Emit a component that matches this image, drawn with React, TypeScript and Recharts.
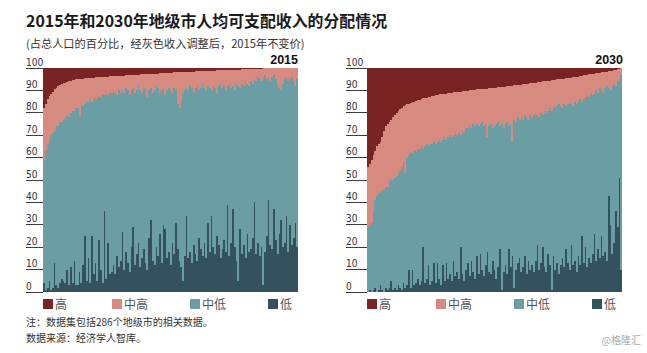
import React from 'react';
import { BarChart, Bar, XAxis, YAxis } from 'recharts';

// ---- shares of population by income class, cities sorted by 高 share (2015) ----
const low2015 = [
  4,1,2,5,1,2,13,3,2,4,6,5,4,10,3,11,4,14,3,3,
  9,4,12,25,5,15,4,25,8,13,5,23,10,4,36,6,22,8,9,12,
  8,16,11,14,27,10,18,13,9,20,29,12,17,22,11,15,19,13,10,24,
  32,14,12,20,16,26,13,30,28,15,18,12,22,17,31,19,14,11,5,16,
  34,15,18,13,21,17,14,24,19,16,22,15,31,18,34,20,17,25,21,15,
  19,23,18,39,16,22,37,20,14,5,28,17,21,15,26,18,19,24,40,17,
  22,16,20,3,18,25,41,21,19,37,23,17,26,32,20,22,34,18,30,21,
  24,31,20,
];
const midLow2015 = [
  55,62,64,63,69,69,59,71,72,72,70,72,74,69,75,69,77,67,79,79,
  69,79,71,59,80,70,82,60,78,74,81,64,77,84,52,83,66,81,80,78,
  81,72,79,75,63,79,73,77,79,70,62,77,73,70,79,74,72,77,77,66,
  59,75,78,72,75,63,77,61,60,75,73,78,67,74,59,65,68,74,84,74,
  57,75,74,78,68,74,78,66,72,77,69,75,61,73,56,72,74,64,71,78,
  72,69,72,53,77,69,55,70,79,87,63,76,71,79,67,74,75,69,55,77,
  74,79,74,93,79,70,55,73,77,60,72,76,65,58,73,73,62,76,65,75,
  70,61,75,
];
const midHigh2015 = [
  23,21,20,19.5,18.5,18.5,18.5,17.2,17.8,16.3,16.7,16.1,15.5,14.8,16,14.3,13.5,13.7,12.9,13,
  17.1,12.2,12.3,11.4,10.5,10.5,9.6,10.7,9.7,8.8,9.9,8.9,9,8,8.1,7.2,8.2,7.3,7.3,6.4,
  7.4,8.5,6.5,7.5,6.6,7.6,5.7,6.7,8.8,6.8,5.9,7.9,7,5,7.1,8.1,6.2,7.2,10.3,7.3,
  6.4,8.4,7.5,5.5,6.5,8.6,7.6,6.7,9.7,7.8,6.8,7.9,8.9,7,8,14.1,16.1,13.2,9.2,8.3,
  7.3,8.3,6.4,7.4,9.4,7.5,6.5,8.5,7.6,5.6,7.6,8.7,6.7,7.7,8.8,6.8,7.8,9.9,6.9,6,
  8,7,9.1,7.1,6.1,8.2,7.2,9.2,6.3,7.3,8.3,6.4,7.4,5.4,6.4,7.5,5.5,6.5,4.5,5.6,
  3.6,4.7,5.7,3.8,2.8,4.9,4,6,4,3,5,7,9,10,7,5,4,6,5,4,
  6,8,5,
];
const high2015 = [
  18,16,14,12.5,11.5,10.5,9.5,8.8,8.2,7.7,7.3,6.9,6.5,6.2,6,5.7,5.5,5.3,5.1,5,
  4.9,4.8,4.7,4.6,4.5,4.5,4.4,4.3,4.3,4.2,4.1,4.1,4,4,3.9,3.8,3.8,3.7,3.7,3.6,
  3.6,3.5,3.5,3.5,3.4,3.4,3.3,3.3,3.2,3.2,3.1,3.1,3,3,2.9,2.9,2.8,2.8,2.7,2.7,
  2.6,2.6,2.5,2.5,2.5,2.4,2.4,2.3,2.3,2.2,2.2,2.1,2.1,2,2,1.9,1.9,1.8,1.8,1.7,
  1.7,1.7,1.6,1.6,1.6,1.5,1.5,1.5,1.4,1.4,1.4,1.3,1.3,1.3,1.2,1.2,1.2,1.1,1.1,1.0,
  1.0,1.0,0.9,0.9,0.9,0.8,0.8,0.8,0.7,0.7,0.7,0.6,0.6,0.6,0.6,0.5,0.5,0.5,0.5,0.4,
  0.4,0.3,0.3,0.2,0.2,0.1,0,0,0,0,0,0,0,0,0,0,0,0,0,0,
  0,0,0,
];

// ---- 2030 ----
const low2030 = [
  0,1,0,1,2,0,1,3,1,0,2,1,2,5,1,2,1,3,2,1,
  4,2,3,10,2,10,3,4,6,3,5,20,4,6,12,3,5,13,4,13,
  6,3,12,5,13,6,8,5,14,7,9,6,20,8,5,10,13,7,14,9,
  6,16,8,17,10,7,12,18,9,8,14,10,6,11,19,1,9,12,8,19,
  11,16,2,10,13,15,9,11,16,8,14,10,12,9,14,21,10,13,20,11,
  9,17,12,1,16,10,13,8,12,15,11,19,13,10,21,12,14,9,16,12,
  25,13,20,11,15,13,17,26,14,19,15,25,16,18,14,43,30,17,22,36,
  29,51,10,
];
const midLow2030 = [
  29,29,31,35,39,43,43,42,44,46,45,46,47,45,49,49,51,50,52,55,
  54,51,57,51,60,52,60,59,58,61,60,44,61,60,53,63,61,54,62,54,
  62,64,56,64,55,63,62,64,56,64,61,65,50,64,66,63,60,67,59,66,
  68,59,66,58,66,67,63,51,65,67,59,64,69,65,55,74,64,63,68,55,
  64,51,75,66,65,62,69,66,63,70,63,69,66,70,66,58,68,67,59,70,
  71,64,70,80,67,72,70,76,71,67,73,64,71,75,63,71,71,75,69,74,
  60,73,67,77,72,76,71,63,76,70,76,65,73,73,78,48,60,75,71,56,
  65,44,87,
];
const midHigh2030 = [
  27,27,28,25,22,22,22,22,24,26,27,28,27,27,28,28,28,28,27.5,26,
  25,30.5,23.8,23.1,22.4,22.7,22,22.2,21.5,21.8,21.1,22.4,21.6,20.8,22,21.2,21.4,20.6,21.8,21,
  20.2,21.3,20.4,19.5,20.6,19.8,18.9,20,19.1,18.2,19.3,18.4,19.5,17.6,18.7,16.8,16.9,16,17.1,15.3,
  16.4,15.5,16.5,15.6,14.7,16.7,15.8,21.8,16.9,15.9,18,17.1,16.2,15.3,17.4,16.5,18.6,16.7,15.8,17.9,
  17,25.1,15.2,16.3,14.4,15.5,14.6,15.7,13.8,14.9,16,14.1,15.2,14.4,13.5,14.6,15.8,13.9,15,13.1,
  14.2,13.3,12.4,13.6,11.7,12.8,11.9,11,12.1,13.2,11.3,12.4,11.5,10.6,11.7,12.8,10.9,12.1,11.2,10.4,
  11.6,10.7,9.9,9,10.1,8.3,9.4,8.5,7.7,8.8,6.9,8.1,9.2,7.3,6.4,7.5,8.7,6.8,6,7.2,
  5.4,4.6,2.8,
];
const high2030 = [
  44,43,41,39,37,35,34,33,31,28,26,25,24,23,22,21,20,19,18.5,18,
  17,16.5,16.2,15.9,15.6,15.3,15,14.8,14.5,14.2,13.9,13.6,13.4,13.2,13,12.8,12.6,12.4,12.2,12,
  11.8,11.7,11.6,11.5,11.4,11.2,11.1,11,10.9,10.8,10.7,10.6,10.5,10.4,10.3,10.2,10.1,10,9.9,9.7,
  9.6,9.5,9.5,9.4,9.3,9.3,9.2,9.2,9.1,9.1,9,8.9,8.8,8.7,8.6,8.5,8.4,8.3,8.2,8.1,
  8,7.9,7.8,7.7,7.6,7.5,7.4,7.3,7.2,7.1,7,6.9,6.8,6.6,6.5,6.4,6.2,6.1,6,5.9,
  5.8,5.7,5.6,5.4,5.3,5.2,5.1,5,4.9,4.8,4.7,4.6,4.5,4.4,4.3,4.2,4.1,3.9,3.8,3.6,
  3.4,3.3,3.1,3,2.9,2.7,2.6,2.5,2.3,2.2,2.1,1.9,1.8,1.7,1.6,1.5,1.3,1.2,1,0.8,
  0.6,0.4,0.2,
];

const yTicks = [0, 10, 20, 30, 40, 50, 60, 70, 80, 90, 100];
const seriesNames = ['高', '中高', '中低', '低'];
const seriesKeys = ['high', 'midHigh', 'midLow', 'low'];
const yearLabels = ['2015', '2030'];

const COLORS: Record<string, string> = {
  high: '#7a2323',
  midHigh: '#d78a80',
  midLow: '#6b9da4',
  low: '#34525d',
};

const buildTable = (low: number[], midLow: number[], midHigh: number[], high: number[]) =>
  low.map((v, i) => ({ rank: i + 1, low: v, midLow: midLow[i], midHigh: midHigh[i], high: high[i] }));

const data2015 = buildTable(low2015, midLow2015, midHigh2015, high2015);
const data2030 = buildTable(low2030, midLow2030, midHigh2030, high2030);

const NUM_FONT = "'Liberation Sans Narrow', 'DejaVu Sans Condensed', Roboto, sans-serif";
const CJK_FONT = "'Noto Sans CJK SC', 'Noto Sans', sans-serif";

const makeTick = (labelX: number, plotLeft: number) => (props: any) => {
  const { y, payload } = props;
  return (
    <g>
      <line x1={labelX} x2={plotLeft} y1={y} y2={y} stroke="#3c3c3c" strokeWidth={1} />
      <text x={labelX} y={y - 2.5} fontSize={10} fill="#333" fontFamily={NUM_FONT}>
        {payload.value}
      </text>
    </g>
  );
};

function Panel({ data, left, labelX }: { data: any[]; left: number; labelX: number }) {
  return (
    <div style={{ position: 'absolute', left, top: 0, width: 310, height: 300 }}>
      <BarChart
        width={310}
        height={300}
        data={data}
        margin={{ top: 68, right: 12, bottom: 8, left: 0 }}
        barCategoryGap={0}
        barGap={0}
        style={{ shapeRendering: 'crispEdges' } as any}
      >
        <XAxis dataKey="rank" hide />
        <YAxis
          domain={[0, 100]}
          ticks={yTicks}
          interval={0}
          width={43}
          axisLine={false}
          tickLine={false}
          allowDataOverflow
          tick={makeTick(labelX, 43)}
        />
        <Bar dataKey="low" stackId="s" fill={COLORS.low} isAnimationActive={false} />
        <Bar dataKey="midLow" stackId="s" fill={COLORS.midLow} isAnimationActive={false} />
        <Bar dataKey="midHigh" stackId="s" fill={COLORS.midHigh} isAnimationActive={false} />
        <Bar dataKey="high" stackId="s" fill={COLORS.high} isAnimationActive={false} />
      </BarChart>
    </div>
  );
}

const legendOffsets = [0, 69, 147, 225];

function Legend({ x0 }: { x0: number }) {
  return (
    <g>
      {seriesKeys.map((k, i) => (
        <g key={k}>
          <rect x={x0 + legendOffsets[i]} y={299} width={10} height={10} fill={COLORS[k]} />
          <text x={x0 + legendOffsets[i] + 12} y={308.5} fontSize={12} fill="#555" fontFamily={CJK_FONT}>
            {seriesNames[i]}
          </text>
        </g>
      ))}
    </g>
  );
}

export default function App() {
  return (
    <div style={{ position: 'absolute', left: 0, top: 0, width: 647, height: 353, background: '#fff', overflow: 'hidden' }}>
      <svg width={647} height={353} style={{ position: 'absolute', left: 0, top: 0 }}>
        <text x={26} y={27} fontSize={15.9} fontWeight={700} fill="#1a1a1a" fontFamily={CJK_FONT}>
          2015年和2030年地级市人均可支配收入的分配情况
        </text>
        <text x={26} y={48} fontSize={11.2} fill="#333" fontFamily={CJK_FONT}>
          (占总人口的百分比，经灰色收入调整后，2015年不变价)
        </text>
        <text x={298} y={64} fontSize={12.5} fontWeight={700} fill="#111" textAnchor="end" fontFamily="'Liberation Sans', Arial, sans-serif">
          {yearLabels[0]}
        </text>
        <text x={623} y={64} fontSize={12.5} fontWeight={700} fill="#111" textAnchor="end" fontFamily="'Liberation Sans', Arial, sans-serif">
          {yearLabels[1]}
        </text>
        <Legend x0={43} />
        <Legend x0={367} />
        <text x={26} y={326} fontSize={10} fill="#333" fontFamily={CJK_FONT}>
          注：数据集包括286个地级市的相关数据。
        </text>
        <text x={26} y={342} fontSize={10} fill="#333" fontFamily={CJK_FONT}>
          数据来源：经济学人智库。
        </text>
        <text x={641} y={344} fontSize={10} fill="#aaa" textAnchor="end" fontFamily={CJK_FONT}>
          @格隆汇
        </text>
      </svg>
      <Panel data={data2015} left={0} labelX={26} />
      <Panel data={data2030} left={324} labelX={22} />
    </div>
  );
}
